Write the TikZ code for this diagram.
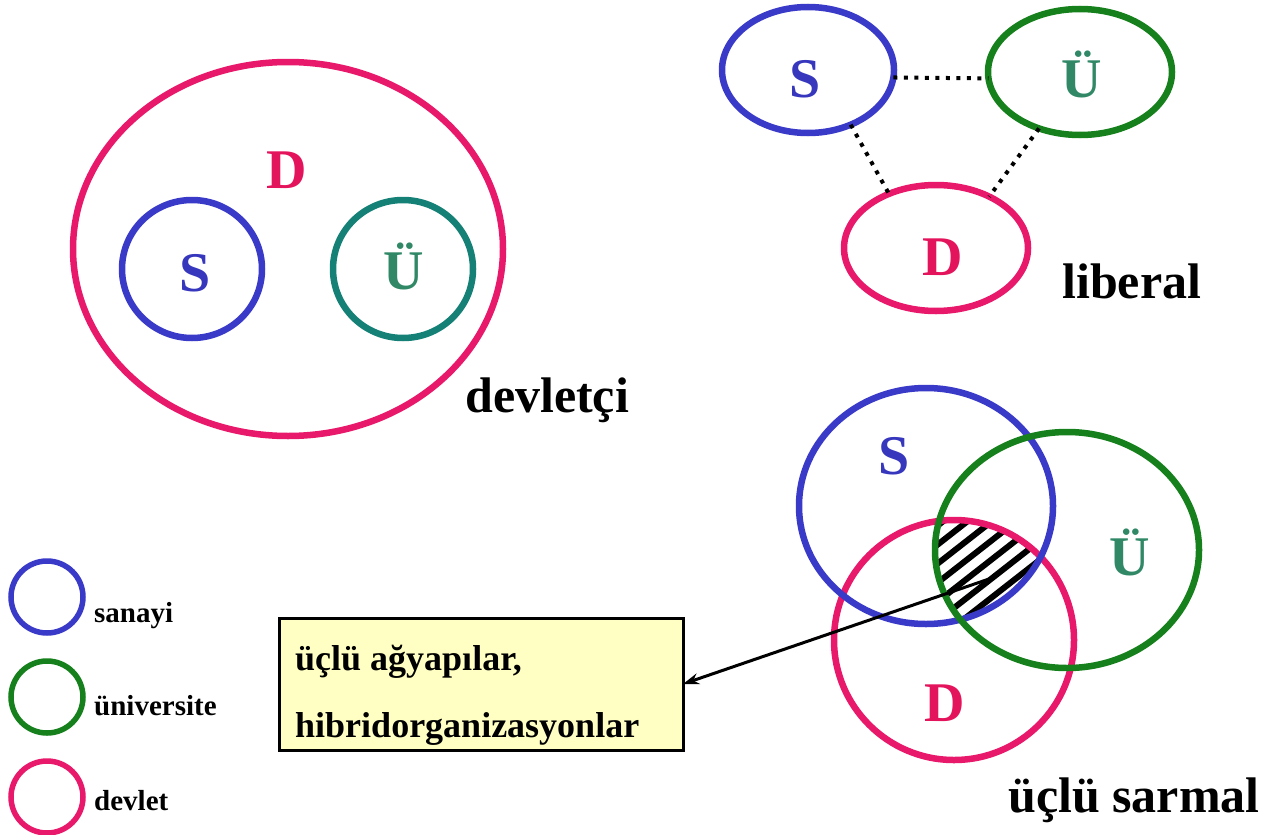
\documentclass[tikz,border=0pt]{standalone}
\usepackage{fontspec}
\setmainfont{Liberation Serif}
\usetikzlibrary{shapes.geometric,arrows.meta,calc}
\definecolor{cblue}{RGB}{58,58,200}
\definecolor{cgreen}{RGB}{22,128,28}
\definecolor{cteal}{RGB}{20,128,118}
\definecolor{cpink}{RGB}{232,24,106}
\definecolor{tblue}{RGB}{55,55,190}
\definecolor{tgreen}{RGB}{48,136,102}
\definecolor{tpink}{RGB}{228,20,92}
\definecolor{boxfill}{RGB}{255,255,196}
\tikzset{
  ring/.style={ellipse, draw, line width=6.5pt, inner sep=0pt, outer sep=0pt},
  legring/.style={ellipse, draw, line width=5.5pt, inner sep=0pt, outer sep=0pt, minimum width=72pt, minimum height=72pt},
  letter/.style={anchor=base, inner sep=0pt, font=\bfseries\fontsize{56}{60}\selectfont},
  title/.style={anchor=base west, inner sep=0pt, font=\bfseries\fontsize{50}{60}\selectfont},
  legtext/.style={anchor=base west, inner sep=0pt, font=\bfseries\fontsize{29}{34}\selectfont},
  boxtext/.style={anchor=base west, inner sep=0pt, font=\bfseries\fontsize{36}{40}\selectfont},
  dotline/.style={line width=4pt, dash pattern=on 4pt off 6.5pt},
  hatch/.style={line width=6pt},
}
\begin{document}
\begin{tikzpicture}[x=1pt,y=-1pt]
\useasboundingbox (0,0) rectangle (1274,835);
% ---------- devletci ----------
\node[ring, draw=cpink, minimum width=430pt, minimum height=374pt] (bigD) at (288,249) {};
\node[ring, draw=cblue, minimum width=140pt, minimum height=138pt] (devS) at (192,269) {};
\node[ring, draw=cteal, minimum width=140pt, minimum height=138pt] (devU) at (403,269) {};
\node[letter, text=tpink] (devDl) at (287,188) {D};
\node[letter, text=tblue] (devSl) at (195,291) {S};
\node[letter, text=tgreen] (devUl) at (404,289) {Ü};
\node[title] (devt) at (465,412) {devletçi};
% ---------- liberal ----------
\node[ring, draw=cblue, minimum width=172pt, minimum height=126pt] (libS) at (808,70) {};
\node[ring, draw=cgreen, minimum width=184pt, minimum height=126pt] (libU) at (1080,72) {};
\node[ring, draw=cpink, minimum width=184pt, minimum height=126pt] (libD) at (936,248) {};
\node[letter, text=tblue] (libSl) at (805,97) {S};
\node[letter, text=tgreen] (libUl) at (1082,97) {Ü};
\node[letter, text=tpink] (libDl) at (943,275) {D};
\draw[dotline] (libS.-5) -- (libU.-176);
\draw[dotline] (libS.-52) -- (libD.131);
\draw[dotline] (libU.-126) -- (libD.44);
\node[title] (libt) at (1062,298) {liberal};
% ---------- uclu sarmal ----------
\begin{scope}
  \clip (926,506) ellipse [x radius=124, y radius=116];
  \clip (1067,550) ellipse [x radius=130, y radius=116];
  \clip (954,640) ellipse [x radius=118, y radius=118];
  \foreach \k in {-6,...,6} {
    \draw[hatch] ($(982,567)+(\k*9.24,\k*11.8)+(-120*0.788,120*0.616)$) -- ($(982,567)+(\k*9.24,\k*11.8)+(120*0.788,-120*0.616)$);
  }
\end{scope}
\node[ring, draw=cpink, minimum width=240pt, minimum height=240pt] (sarD) at (954,640) {};
\node[ring, draw=cblue, minimum width=254pt, minimum height=236pt] (sarS) at (926,506) {};
\node[ring, draw=cgreen, minimum width=264pt, minimum height=236pt] (sarU) at (1067,550) {};
\node[letter, text=tblue] (sarSl) at (894,474) {S};
\node[letter, text=tgreen] (sarUl) at (1130,575) {Ü};
\node[letter, text=tpink] (sarDl) at (945,721) {D};
\node[title] (sart) at (1008,812) {üçlü sarmal};
% ---------- box ----------
\node[draw=black, line width=3pt, fill=boxfill, minimum width=404pt, minimum height=132pt, inner sep=0pt, outer sep=0pt] (box) at (481,684) {};
\node[boxtext] (boxl1) at (295,670) {üçlü ağyapılar,};
\node[boxtext] (boxl2) at (295,737) {hibridorganizasyonlar};
\coordinate (hatchpt) at (989,579);
\draw[line width=3pt, -{Stealth[length=16pt,width=11pt]}] (hatchpt) -- (box.east);
% ---------- legend ----------
\node[legring, draw=cblue] (legS) at (47,597) {};
\node[legring, draw=cgreen] (legU) at (47,697) {};
\node[legring, draw=cpink] (legD) at (47,797) {};
\node[legtext] (legSt) at (94,622) {sanayi};
\node[legtext] (legUt) at (94,715) {üniversite};
\node[legtext] (legDt) at (94,810) {devlet};
\end{tikzpicture}
\end{document}
